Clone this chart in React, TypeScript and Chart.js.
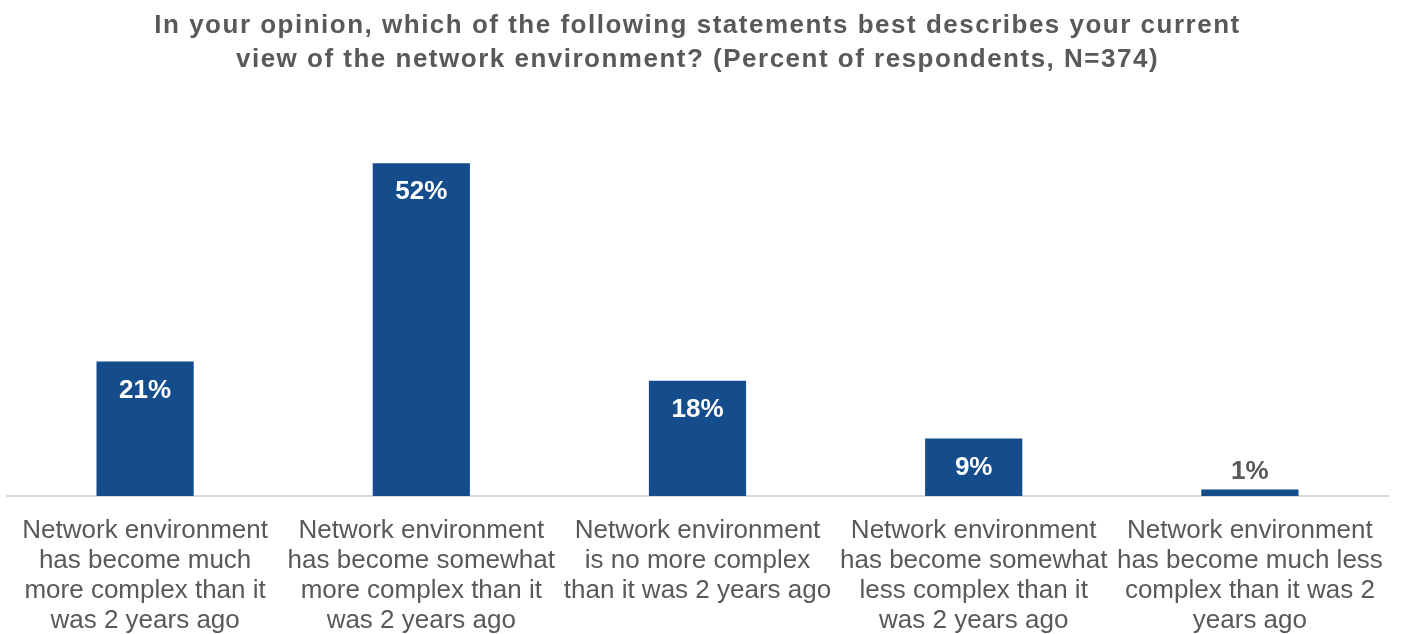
import React, { useEffect, useRef } from "react";
import { Chart, registerables } from "chart.js";

Chart.register(...registerables);

const titleLines = [
  "In your opinion, which of the following statements best describes your current",
  "view of the network environment? (Percent of respondents, N=374)",
];

const categories: string[][] = [
  ["Network environment", "has become much", "more complex than it", "was 2 years ago"],
  ["Network environment", "has become somewhat", "more complex than it", "was 2 years ago"],
  ["Network environment", "is no more complex", "than it was 2 years ago"],
  ["Network environment", "has become somewhat", "less complex than it", "was 2 years ago"],
  ["Network environment", "has become much less", "complex than it was 2", "years ago"],
];

const values = [21, 52, 18, 9, 1];

const BAR_COLOR = "#154C8C";
const TEXT_COLOR = "#595959";
const FONT = "'Liberation Sans', Arial, sans-serif";

const titlePlugin = {
  id: "customTitle",
  afterDraw(chart: any) {
    const ctx = chart.ctx;
    const cx = (chart.chartArea.left + chart.chartArea.right) / 2;
    ctx.save();
    ctx.font = `bold 26px ${FONT}`;
    (ctx as any).letterSpacing = "1.5px";
    ctx.fillStyle = TEXT_COLOR;
    ctx.textAlign = "center";
    ctx.textBaseline = "middle";
    titleLines.forEach((line, i) => {
      ctx.fillText(line, cx, 26 + i * 34);
    });
    ctx.restore();
  },
};

const dataLabelPlugin = {
  id: "dataLabels",
  afterDatasetsDraw(chart: any) {
    const ctx = chart.ctx;
    const meta = chart.getDatasetMeta(0);
    ctx.save();
    ctx.font = `bold 26px ${FONT}`;
    ctx.textAlign = "center";
    ctx.textBaseline = "middle";
    meta.data.forEach((bar: any, i: number) => {
      const v = values[i];
      const h = bar.base - bar.y;
      const label = `${v}%`;
      if (h > 50) {
        ctx.fillStyle = "#ffffff";
        ctx.fillText(label, bar.x, bar.y + 29);
      } else {
        ctx.fillStyle = TEXT_COLOR;
        ctx.fillText(label, bar.x, bar.y - 18);
      }
    });
    ctx.restore();
  },
};

export default function App() {
  const ref = useRef<HTMLCanvasElement | null>(null);

  useEffect(() => {
    if (!ref.current) return;
    Chart.defaults.font.family = FONT;
    const chart = new Chart(ref.current, {
      type: "bar",
      data: {
        labels: categories,
        datasets: [
          {
            data: values,
            backgroundColor: BAR_COLOR,
            borderWidth: 0,
            categoryPercentage: 1,
            barPercentage: 0.352,
          },
        ],
      },
      options: {
        animation: false,
        responsive: false,
        maintainAspectRatio: false,
        layout: { padding: { left: 7, right: 13, top: 112, bottom: 0 } },
        plugins: {
          legend: { display: false },
          tooltip: { enabled: false },
          title: { display: false },
        },
        scales: {
          x: {
            grid: { display: false, drawTicks: false },
            border: { display: true, color: "#D9D9D9", width: 2 },
            ticks: {
              color: TEXT_COLOR,
              font: { size: 26, lineHeight: 30 / 26, family: FONT },
              padding: 20,
              autoSkip: false,
              maxRotation: 0,
              minRotation: 0,
            },
            afterFit(scale: any) {
              scale.height = 138;
              scale.paddingLeft = 0;
              scale.paddingRight = 0;
            },
          },
          y: {
            display: false,
            min: 0,
            max: 60,
          },
        },
      },
      plugins: [dataLabelPlugin, titlePlugin],
    });
    return () => chart.destroy();
  }, []);

  return (
    <div style={{ position: "fixed", left: 0, top: 0, width: 1401, height: 634, background: "#fff" }}>
      <canvas ref={ref} width={1401} height={634} style={{ display: "block", width: 1401, height: 634 }} />
    </div>
  );
}
